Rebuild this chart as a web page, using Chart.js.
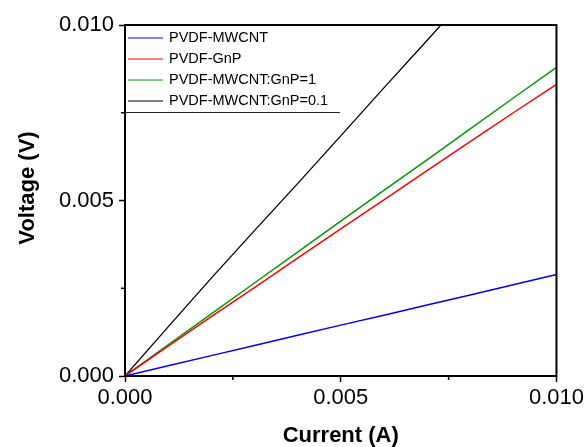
<!DOCTYPE html>
<html><head><meta charset="utf-8">
<script src="https://cdn.jsdelivr.net/npm/chart.js@4"></script>
<style>html,body{margin:0;padding:0;background:#fff}</style>
</head><body>
<canvas id="c" width="587" height="447"></canvas>
<script>
// ---- data (A, V) ----
const current = [0, 0.001, 0.002, 0.003, 0.004, 0.005, 0.006, 0.007, 0.008, 0.009, 0.010];
const vMWCNT = [0, 0.00029, 0.00058, 0.00087, 0.00116, 0.00145, 0.00173, 0.00202, 0.00231, 0.00260, 0.00289];
const vGnP = [0, 0.00085, 0.00169, 0.00252, 0.00336, 0.00419, 0.00502, 0.00585, 0.00668, 0.00750, 0.00831];
const vRatio1 = [0, 0.00089, 0.00177, 0.00265, 0.00353, 0.00441, 0.00529, 0.00616, 0.00704, 0.00792, 0.00879];
const vRatio01 = [0, 0.00140, 0.00279, 0.00414, 0.00548, 0.00684, 0.00821, 0.00956, 0.01092, null, null];
const seriesLabels = ['PVDF-MWCNT', 'PVDF-GnP', 'PVDF-MWCNT:GnP=1', 'PVDF-MWCNT:GnP=0.1'];
const seriesColors = ['#0000ff', '#ff0000', '#009900', '#000000'];
const xTickValues = [0, 0.005, 0.010];
const yTickValues = [0, 0.005, 0.010];
const minorTickValues = [0.0025, 0.0075];

const FONT = "'Liberation Sans', Arial, sans-serif";
const seriesValues = [vMWCNT, vGnP, vRatio1, vRatio01];

function toPoints(ys) {
  const pts = [];
  ys.forEach((y, i) => { if (y !== null) pts.push({x: current[i], y: y}); });
  return pts;
}

const datasets = seriesValues.map((ys, i) => ({
  label: seriesLabels[i],
  data: toPoints(ys),
  borderColor: seriesColors[i],
  backgroundColor: seriesColors[i],
  borderWidth: i === 3 ? 1.3 : 1.5,
  pointRadius: 0,
  showLine: true,
  tension: 0
}));

const decor = {
  id: 'decor',
  afterDatasetsDraw(chart) {
    const ctx = chart.ctx;
    const a = chart.chartArea;
    const xs = chart.scales.x, ys = chart.scales.y;
    ctx.save();
    // frame
    ctx.strokeStyle = '#000';
    ctx.lineWidth = 2;
    ctx.strokeRect(a.left, a.top, a.right - a.left, a.bottom - a.top);
    // minor ticks
    ctx.lineWidth = 1.5;
    ctx.beginPath();
    minorTickValues.forEach(v => {
      const px = xs.getPixelForValue(v);
      ctx.moveTo(px, a.bottom); ctx.lineTo(px, a.bottom + 4);
      const py = ys.getPixelForValue(v);
      ctx.moveTo(a.left, py); ctx.lineTo(a.left - 4, py);
    });
    ctx.stroke();
    // legend
    ctx.font = '14.5px ' + FONT;
    ctx.textBaseline = 'middle';
    ctx.textAlign = 'left';
    chart.data.datasets.forEach((d, i) => {
      const y = a.top + 13 + 21 * i;
      ctx.strokeStyle = d.borderColor;
      ctx.lineWidth = 1;
      ctx.beginPath();
      ctx.moveTo(a.left + 3, y); ctx.lineTo(a.left + 38, y);
      ctx.stroke();
      ctx.fillStyle = '#000';
      ctx.fillText(d.label, a.left + 44, y);
    });
    ctx.strokeStyle = '#222';
    ctx.lineWidth = 1;
    ctx.beginPath();
    ctx.moveTo(a.left, 112.5); ctx.lineTo(340, 112.5);
    ctx.stroke();
    // axis titles
    ctx.fillStyle = '#000';
    ctx.font = 'bold 22px ' + FONT;
    ctx.textAlign = 'center';
    ctx.fillText('Current (A)', (a.left + a.right) / 2, 436);
    ctx.translate(28, 188);
    ctx.rotate(-Math.PI / 2);
    ctx.fillText('Voltage (V)', 0, 0);
    ctx.restore();
  }
};

function axis(tickVals, isX) {
  return {
    type: 'linear',
    min: 0, max: 0.010,
    afterBuildTicks: s => { s.ticks = tickVals.map(v => ({value: v})); },
    afterFit: s => { if (isX) s.height = 71; else s.width = 125; },
    ticks: {
      color: '#000',
      font: {family: FONT, size: 22},
      padding: isX ? 3 : 5,
      maxRotation: 0,
      autoSkip: false,
      callback: v => Number(v).toFixed(3)
    },
    grid: {drawOnChartArea: false, drawTicks: true, tickLength: 6, tickColor: '#000', tickWidth: 1.5},
    border: {display: true, color: '#000', width: 2}
  };
}

new Chart(document.getElementById('c'), {
  type: 'scatter',
  data: {datasets},
  options: {
    responsive: false,
    animation: false,
    devicePixelRatio: 1,
    layout: {padding: {top: 25, right: 29, left: 0, bottom: 0}},
    plugins: {legend: {display: false}, tooltip: {enabled: false}},
    scales: {x: axis(xTickValues, true), y: axis(yTickValues, false)}
  },
  plugins: [decor]
});
</script>
</body></html>
